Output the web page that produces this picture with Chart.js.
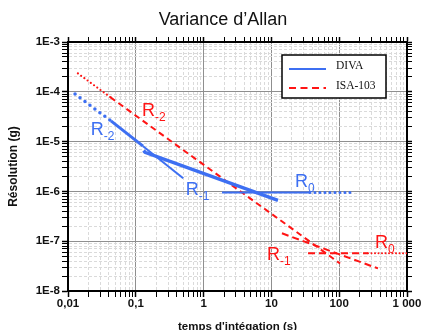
<!DOCTYPE html>
<html>
<head>
<meta charset="utf-8">
<script src="https://cdn.jsdelivr.net/npm/chart.js@4.4.0/dist/chart.umd.min.js"></script>
<style>
html, body { margin: 0; padding: 0; background: #fff; }
</style>
</head>
<body>
<canvas id="myChart" width="422" height="330"></canvas>
<script>
// axes
const xTicks = [0.01, 0.1, 1, 10, 100, 1000];
const xLabels = ['0,01', '0,1', '1', '10', '100', '1 000'];
const yTicks = [1e-8, 1e-7, 1e-6, 1e-5, 1e-4, 1e-3];
const yLabels = ['1E-8', '1E-7', '1E-6', '1E-5', '1E-4', '1E-3'];

// DIVA  [tau (s), resolution (g)]
const divaR2dot = [[0.0127, 9.0e-5], [0.043, 2.6e-5]];
const divaR2 = [[0.043, 2.6e-5], [0.128, 8.1e-6]];
const divaR2tail = [[0.128, 8.1e-6], [0.50, 1.84e-6]];
const divaR1 = [[0.13, 6.6e-6], [0.137, 6.1e-6], [12.5, 6.6e-7]];
const divaR0 = [[1.87, 9.5e-7], [37, 9.5e-7]];
const divaR0dot = [[37, 9.5e-7], [144, 9.5e-7]];

// ISA-103
const isaR2dot = [[0.014, 2.34e-4], [0.042, 7.8e-5]];
const isaR2 = [[0.042, 7.8e-5], [103, 3.57e-8]];
const isaR1 = [[14.3, 1.44e-7], [373, 2.84e-8]];
const isaR0 = [[34.7, 5.7e-8], [266, 5.7e-8]];
const isaR0dot = [[266, 5.7e-8], [1000, 5.7e-8]];

const blue = '#3d6ff2';
const red = '#ff1414';
const font = '"Liberation Sans", Arial, sans-serif';

// slope labels, anchored in data units
const notes = [
  {x: 0.1234, y: 3.3e-5, sub: '-2', color: red},
  {x: 0.0216, y: 1.35e-5, sub: '-2', color: blue},
  {x: 0.545, y: 8.4e-7, sub: '-1', color: blue},
  {x: 22.3, y: 1.21e-6, sub: '0', color: blue},
  {x: 8.6, y: 4.1e-8, sub: '-1', color: red},
  {x: 337, y: 7.2e-8, sub: '0', color: red}
];

function line(pts, color, width, dash, cap) {
  return {
    data: pts.map(p => ({x: p[0], y: p[1]})),
    showLine: true,
    borderColor: color,
    backgroundColor: color,
    borderWidth: width,
    borderDash: dash,
    borderCapStyle: cap || 'butt',
    pointRadius: 0,
    pointHoverRadius: 0,
    xAxisID: 'x',
    yAxisID: 'y'
  };
}

function logTicks(list) {
  return function(scale) {
    const t = [];
    for (let i = 0; i < list.length - 1; i++) {
      for (let m = 1; m < 10; m++) t.push({value: list[i] * m});
    }
    t.push({value: list[list.length - 1]});
    scale.ticks = t;
  };
}

function isMajor(list, v) {
  return list.indexOf(v) >= 0;
}

function axis(list, pos, size, main, labels) {
  const horiz = pos === 'bottom' || pos === 'top';
  return {
    type: 'logarithmic',
    position: pos,
    min: list[0],
    max: list[list.length - 1],
    afterBuildTicks: logTicks(list),
    afterFit: s => { if (horiz) s.height = size; else s.width = size; },
    grid: {
      drawOnChartArea: main,
      drawTicks: true,
      tickLength: main ? 6 : 5,
      color: c => c.tick && isMajor(list, c.tick.value) ? '#8f8f8f' : '#dadada',
      lineWidth: 1,
      tickColor: '#000',
      tickWidth: c => c.tick && isMajor(list, c.tick.value) ? 1.5 : 1,
      tickBorderDash: []
    },
    border: {
      display: true,
      color: '#000',
      width: 2,
      dash: c => c.tick && !isMajor(list, c.tick.value) ? [3, 2] : []
    },
    ticks: {
      display: main,
      autoSkip: false,
      maxRotation: 0,
      padding: horiz ? 0 : 2,
      color: '#111',
      font: {family: font, size: 11.5, weight: 'bold'},
      callback: v => {
        const i = list.indexOf(v);
        return i >= 0 ? labels[i] : '';
      }
    }
  };
}

const extras = {
  id: 'extras',
  afterDraw(chart) {
    const c = chart.ctx;
    const xs = chart.scales.x, ys = chart.scales.y;
    const area = chart.chartArea;
    c.save();

    // title
    c.fillStyle = '#111';
    c.textAlign = 'center';
    c.textBaseline = 'alphabetic';
    c.font = '18px ' + font;
    c.fillText('Variance d\u2019Allan', 223, 25);

    // slope labels
    c.textAlign = 'left';
    notes.forEach(n => {
      const px = xs.getPixelForValue(n.x);
      const py = ys.getPixelForValue(n.y);
      c.fillStyle = n.color;
      c.font = '18px ' + font;
      c.fillText('R', px, py);
      const w = c.measureText('R').width;
      c.font = '12px ' + font;
      c.fillText(n.sub, px + w, py + 5);
    });

    // legend
    const bx = area.right - 125, by = area.top + 13, bw = 104, bh = 43;
    c.fillStyle = '#fff';
    c.fillRect(bx, by, bw, bh);
    c.strokeStyle = '#000';
    c.lineWidth = 1.5;
    c.strokeRect(bx, by, bw, bh);
    c.lineWidth = 2;
    c.strokeStyle = blue;
    c.beginPath();
    c.moveTo(bx + 7, by + 14);
    c.lineTo(bx + 44, by + 14);
    c.stroke();
    c.strokeStyle = red;
    c.setLineDash([7, 4.5]);
    c.beginPath();
    c.moveTo(bx + 7, by + 33);
    c.lineTo(bx + 44, by + 33);
    c.stroke();
    c.setLineDash([]);
    c.fillStyle = '#111';
    c.font = '11.5px "Liberation Serif", "Times New Roman", serif';
    c.fillText('DIVA', bx + 54, by + 14);
    c.fillText('ISA-103', bx + 54, by + 34);
    c.restore();
  }
};

const xAxis = axis(xTicks, 'bottom', 39, true, xLabels);
xAxis.title = {
  display: true,
  text: "temps d'intégation (s)",
  color: '#111',
  font: {family: font, size: 11.5, weight: 'bold'},
  padding: {top: 0, bottom: -4}
};
const yAxis = axis(yTicks, 'left', 68, true, yLabels);
yAxis.title = {
  display: true,
  text: 'Résolution (g)',
  color: '#111',
  font: {family: font, size: 12, weight: 'bold'},
  padding: {top: 6, bottom: 0}
};

const ctx = document.getElementById('myChart').getContext('2d');
const myChart = new Chart(ctx, {
  type: 'scatter',
  data: {
    datasets: [
      line(divaR2dot, blue, 3.5, [0, 6.2], 'round'),
      line(divaR2, blue, 3, []),
      line(divaR2tail, blue, 2, []),
      line(divaR1, blue, 3.5, []),
      line(divaR0, blue, 2, []),
      line(divaR0dot, blue, 3, [0, 5], 'round'),
      line(isaR2dot, red, 2.2, [0, 4], 'round'),
      line(isaR2, red, 2, [6, 4]),
      line(isaR1, red, 2, [7, 4]),
      line(isaR0, red, 2, [7, 4]),
      line(isaR0dot, red, 2, [0, 3.5], 'round')
    ]
  },
  options: {
    responsive: false,
    animation: false,
    devicePixelRatio: 1,
    layout: {padding: 0},
    plugins: {
      legend: {display: false},
      title: {display: false},
      tooltip: {enabled: false}
    },
    scales: {
      x: xAxis,
      y: yAxis,
      x2: axis(xTicks, 'top', 42, false, xLabels),
      y2: axis(yTicks, 'right', 15, false, yLabels)
    }
  },
  plugins: [extras]
});
</script>
</body>
</html>
